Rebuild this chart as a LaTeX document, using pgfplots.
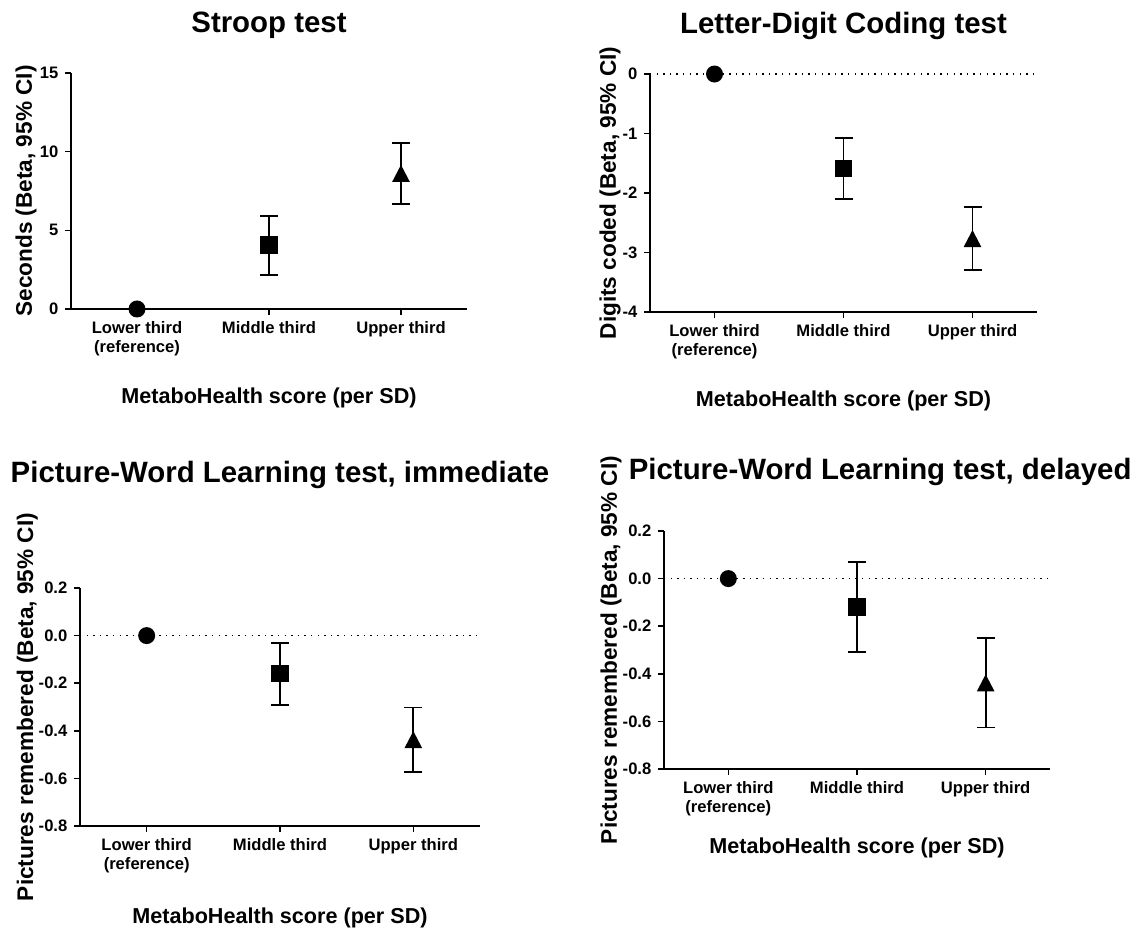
\documentclass[border=0pt]{standalone}
\usepackage{fontspec}
\setmainfont{Liberation Sans}
\usepackage{pgfplots}
\pgfplotsset{compat=1.18}

\newcommand\ticksfont{\fontsize{8.3}{9.3}\selectfont\bfseries}
\newcommand\titlefont{\fontsize{14.7}{17}\selectfont\bfseries}
\newcommand\xlabfont{\fontsize{10.8}{13}\selectfont\bfseries}
\newcommand\ylabfont{\fontsize{11.3}{13}\selectfont\bfseries}

% fill-only marks
\pgfdeclareplotmark{gtri}{%
  \pgfpathmoveto{\pgfqpoint{0pt}{1.0\pgfplotmarksize}}%
  \pgfpathlineto{\pgfqpoint{1.04\pgfplotmarksize}{-1.0\pgfplotmarksize}}%
  \pgfpathlineto{\pgfqpoint{-1.04\pgfplotmarksize}{-1.0\pgfplotmarksize}}%
  \pgfpathclose\pgfusepathqfill}
\pgfdeclareplotmark{gsq}{%
  \pgfpathrectangle{\pgfqpoint{-\pgfplotmarksize}{-\pgfplotmarksize}}{\pgfqpoint{2\pgfplotmarksize}{2\pgfplotmarksize}}%
  \pgfusepathqfill}
\pgfdeclareplotmark{gcirc}{%
  \pgfpathcircle{\pgfpointorigin}{\pgfplotmarksize}%
  \pgfusepathqfill}

\pgfplotsset{
  panel/.style={
    scale only axis,
    axis x line=bottom, axis y line=left,
    axis line style={-, line width=0.75pt, black},
    xmin=-0.5, xmax=2.5, xtick={0,1,2},
    xticklabels={{Lower third\\(reference)},{Middle third},{Upper third}},
    tick align=outside, major tick length=2.8pt,
    tick style={line width=0.75pt, black},
    xticklabel style={align=center, font=\ticksfont},
    yticklabel style={font=\ticksfont},
    clip=false,
    every axis title shift=0pt,
    title style={font=\titlefont, anchor=base},
    every axis x label/.style={font=\xlabfont, anchor=base},
    every axis y label/.style={font=\ylabfont, rotate=90, anchor=base},
  },
  pcirc/.style={only marks, black, mark=gcirc, mark size=4.25pt},
  psq/.style={only marks, black, mark=gsq, mark size=4.4pt,
    error bars/y dir=both, error bars/y explicit, error bars/error mark=|,
    error bars/error bar style={line width=0.9pt},
    error bars/error mark options={line width=0.9pt, mark size=4.5pt}},
  ptri/.style={only marks, black, mark=gtri, mark size=4.25pt,
    error bars/y dir=both, error bars/y explicit, error bars/error mark=|,
    error bars/error bar style={line width=0.9pt},
    error bars/error mark options={line width=0.9pt, mark size=4.5pt}},
  zeroline/.style={no marks, black, line width=0.7pt, dash pattern=on 0.7pt off 2.6pt, forget plot},
}

\begin{document}
\begin{tikzpicture}
\useasboundingbox (0,0) rectangle (573.5pt,-464.5pt);

% Panel 1: Stroop test
\begin{axis}[panel,
  at={(35.5pt,-154.5pt)}, anchor=south west, width=198pt, height=118pt,
  ymin=0, ymax=15, ytick={0,5,10,15}, yticklabels={0,5,10,15},
  title={Stroop test}, title style={at={(axis description cs:0.5,1.1695)}},
  xlabel={MetaboHealth score (per SD)}, xlabel style={at={(axis description cs:0.5,-0.4025)}},
  ylabel={Seconds (Beta, 95\% CI)}, ylabel style={at={(axis description cs:-0.0985,0.5)}},
]
\addplot[pcirc] coordinates {(0,0)};
\addplot[psq] coordinates {(1,4.05) +- (0,1.885)};
\addplot[ptri] coordinates {(2,8.62) +- (0,1.93)};
\end{axis}

% Panel 2: Letter-Digit Coding test
\begin{axis}[panel,
  at={(325pt,-156pt)}, anchor=south west, width=193.5pt, height=119pt,
  ymin=-4, ymax=0, ytick={-4,-3,-2,-1,0}, yticklabels={-4,-3,-2,-1,0},
  title={Letter-Digit Coding test}, title style={at={(axis description cs:0.5,1.172)}},
  xlabel={MetaboHealth score (per SD)}, xlabel style={at={(axis description cs:0.5,-0.399)}},
  ylabel={Digits coded (Beta, 95\% CI)}, ylabel style={at={(axis description cs:-0.0879,0.5)}},
]
\addplot[zeroline] coordinates {(-0.5,0) (2.5,0)};
\addplot[pcirc] coordinates {(0,0)};
\addplot[psq] coordinates {(1,-1.585) +- (0,0.515)};
\addplot[ptri] coordinates {(2,-2.765) +- (0,0.525)};
\end{axis}

% Panel 3: Picture-Word Learning test, immediate
\begin{axis}[panel,
  at={(40pt,-413pt)}, anchor=south west, width=200pt, height=119pt,
  ymin=-0.8, ymax=0.2, ytick={-0.8,-0.6,-0.4,-0.2,0,0.2}, yticklabels={-0.8,-0.6,-0.4,-0.2,0.0,0.2},
  title={Picture-Word Learning test, immediate}, title style={at={(axis description cs:0.5,1.445)}},
  xlabel={MetaboHealth score (per SD)}, xlabel style={at={(axis description cs:0.5,-0.4076)}},
  ylabel={Pictures remembered (Beta, 95\% CI)}, ylabel style={at={(axis description cs:-0.1175,0.5)}},
]
\addplot[zeroline] coordinates {(-0.5,0) (2.5,0)};
\addplot[pcirc] coordinates {(0,0)};
\addplot[psq] coordinates {(1,-0.16) +- (0,0.13)};
\addplot[ptri] coordinates {(2,-0.437) +- (0,0.135)};
\end{axis}

% Panel 4: Picture-Word Learning test, delayed
\begin{axis}[panel,
  at={(332pt,-384.5pt)}, anchor=south west, width=193pt, height=119pt,
  ymin=-0.8, ymax=0.2, ytick={-0.8,-0.6,-0.4,-0.2,0,0.2}, yticklabels={-0.8,-0.6,-0.4,-0.2,0.0,0.2},
  title={Picture-Word Learning test, delayed}, title style={at={(axis description cs:0.56,1.218)}},
  xlabel={MetaboHealth score (per SD)}, xlabel style={at={(axis description cs:0.5,-0.353)}},
  ylabel={Pictures remembered (Beta, 95\% CI)}, ylabel style={at={(axis description cs:-0.1218,0.5)}},
]
\addplot[zeroline] coordinates {(-0.5,0) (2.5,0)};
\addplot[pcirc] coordinates {(0,0)};
\addplot[psq] coordinates {(1,-0.12) +- (0,0.19)};
\addplot[ptri] coordinates {(2,-0.438) +- (0,0.188)};
\end{axis}
\end{tikzpicture}
\end{document}
